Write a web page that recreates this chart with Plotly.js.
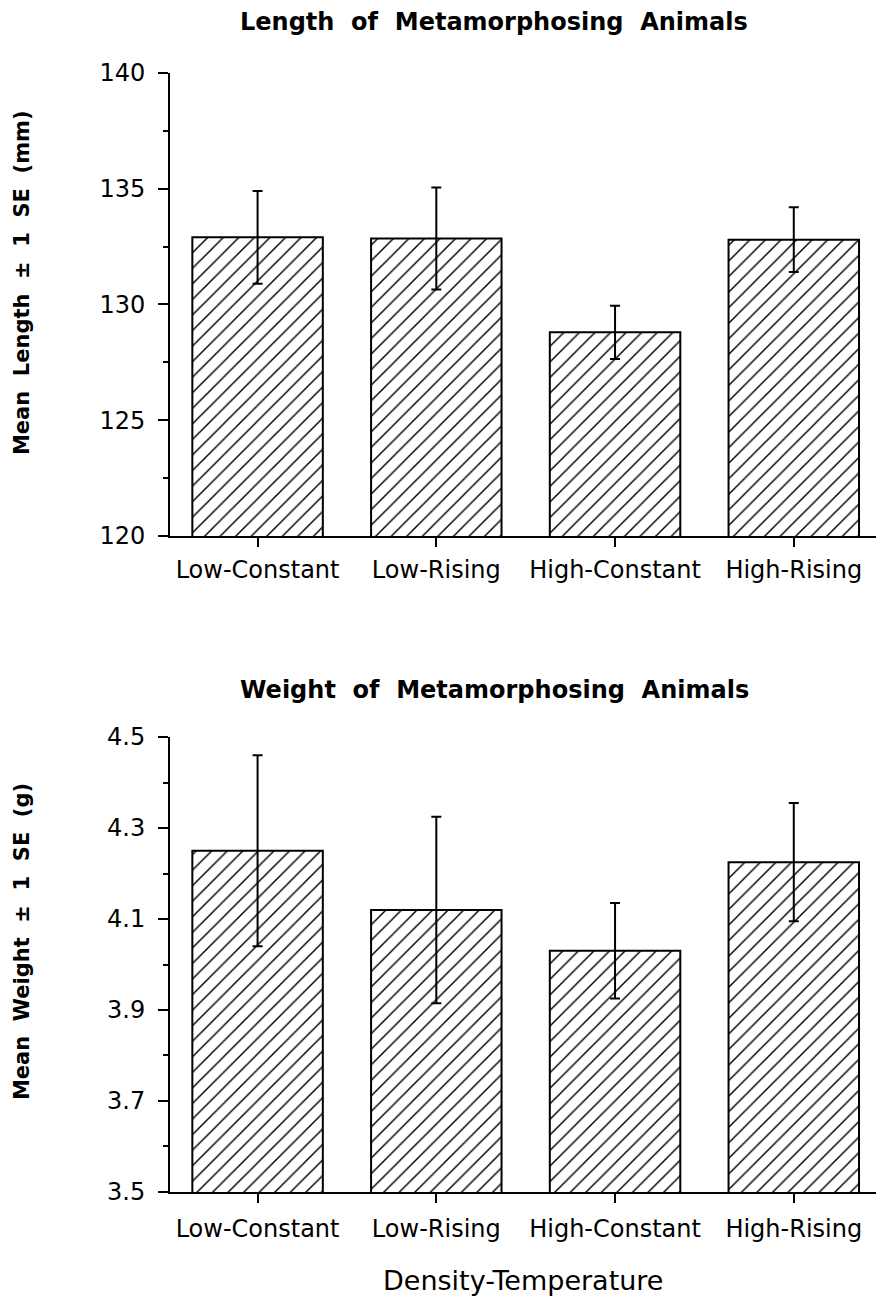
<!DOCTYPE html>
<html><head><meta charset="utf-8">
<script src="https://cdn.plot.ly/plotly-3.0.1.min.js"></script>
<style>body{margin:0;background:#fff}</style>
</head><body>
<div id="chart" style="width:878px;height:1299px"></div>
<script>
const categories = ['Low-Constant', 'Low-Rising', 'High-Constant', 'High-Rising'];
const lengthMeans = [132.9, 132.85, 128.8, 132.8];
const lengthSE = [2.0, 2.2, 1.15, 1.4];
const weightMeans = [4.25, 4.12, 4.03, 4.225];
const weightSE = [0.21, 0.205, 0.105, 0.13];
const lengthTicks = [120, 125, 130, 135, 140];
const lengthMinorTicks = [122.5, 127.5, 132.5, 137.5];
const weightTicks = [3.5, 3.7, 3.9, 4.1, 4.3, 4.5];
const weightTickText = ['3.5', '3.7', '3.9', '4.1', '4.3', '4.5'];
const weightMinorTicks = [3.6, 3.8, 4.0, 4.2, 4.4];

const tickFont = {family: 'DejaVu Sans', size: 24, color: '#000'};
const titleFont = {family: 'DejaVu Sans', size: 24, color: '#000', weight: 'bold'};
const yTitleFont = {family: 'DejaVu Sans', size: 21, color: '#000', weight: 'bold'};

function barTrace(y, se, xa, ya) {
  return {
    type: 'bar', x: categories, y: y, xaxis: xa, yaxis: ya, width: 0.73,
    marker: {color: '#fff', line: {color: '#000', width: 2},
      pattern: {shape: '/', fgcolor: '#000', bgcolor: '#fff', size: 11, solidity: 0.13}},
    error_y: {type: 'data', array: se, visible: true, color: '#000', thickness: 2, width: 5},
    showlegend: false, hoverinfo: 'skip'
  };
}

const xBase = {
  type: 'category', range: [-0.49, 3.46], showline: true, linewidth: 2, linecolor: '#000',
  ticks: 'outside', ticklen: 9, tickwidth: 2, tickcolor: '#000', tickfont: tickFont,
  showgrid: false, zeroline: false, fixedrange: true, ticklabelstandoff: 2
};
const yBase = {
  showline: true, linewidth: 2, linecolor: '#000', ticks: 'outside', ticklen: 10, tickwidth: 2,
  tickcolor: '#000', tickfont: tickFont, showgrid: false, zeroline: false, tickmode: 'array',
  ticklabelstandoff: 8
};

const layout = {
  width: 878, height: 1299, paper_bgcolor: '#fff', plot_bgcolor: '#fff',
  margin: {l: 170, r: 2, t: 0, b: 0}, bargap: 0.27,
  xaxis: Object.assign({}, xBase, {anchor: 'y', domain: [0, 1]}),
  yaxis: Object.assign({}, yBase, {anchor: 'x', domain: [0.5874, 0.9438], range: [120, 140],
    tickvals: lengthTicks,
    minor: {tickmode: 'array', tickvals: lengthMinorTicks, ticks: 'outside', ticklen: 5, tickwidth: 2, tickcolor: '#000', showgrid: false}}),
  xaxis2: Object.assign({}, xBase, {anchor: 'y2', domain: [0, 1], ticklabelstandoff: 5}),
  yaxis2: Object.assign({}, yBase, {anchor: 'x2', domain: [0.0824, 0.4326], range: [3.5, 4.5],
    tickvals: weightTicks, ticktext: weightTickText,
    minor: {tickmode: 'array', tickvals: weightMinorTicks, ticks: 'outside', ticklen: 5, tickwidth: 2, tickcolor: '#000', showgrid: false}}),
  annotations: [
    {text: 'Length  of  Metamorphosing  Animals', xref: 'paper', yref: 'paper', x: 0.459, y: 0.983,
      showarrow: false, font: titleFont, xanchor: 'center', yanchor: 'middle'},
    {text: 'Weight  of  Metamorphosing  Animals', xref: 'paper', yref: 'paper', x: 0.459, y: 0.469,
      showarrow: false, font: titleFont, xanchor: 'center', yanchor: 'middle'},
    {text: 'Mean  Length  ±  1  SE  (mm)', xref: 'paper', yref: 'paper', x: -0.2096, y: 0.7821,
      showarrow: false, font: yTitleFont, textangle: -90, xanchor: 'center', yanchor: 'middle'},
    {text: 'Mean  Weight  ±  1  SE  (g)', xref: 'paper', yref: 'paper', x: -0.2096, y: 0.2748,
      showarrow: false, font: yTitleFont, textangle: -90, xanchor: 'center', yanchor: 'middle'},
    {text: 'Density-Temperature', xref: 'paper', yref: 'paper', x: 0.5, y: 0.0146,
      showarrow: false, font: {family: 'DejaVu Sans', size: 27, color: '#000'}, xanchor: 'center', yanchor: 'middle'}
  ]
};

Plotly.newPlot('chart', [
  barTrace(lengthMeans, lengthSE, 'x', 'y'),
  barTrace(weightMeans, weightSE, 'x2', 'y2')
], layout, {staticPlot: true});
</script>
</body></html>
